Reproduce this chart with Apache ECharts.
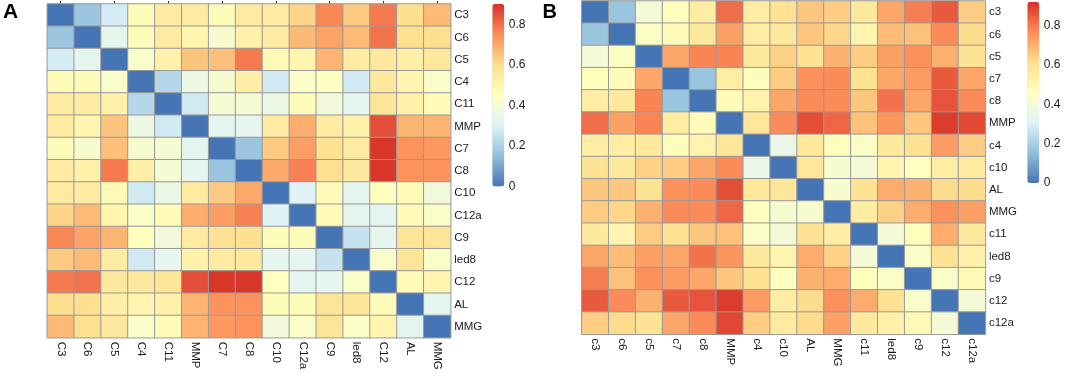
<!DOCTYPE html>
<html>
<head>
<meta charset="utf-8">
<script src="https://cdn.jsdelivr.net/npm/echarts@6/dist/echarts.min.js"></script>
<style>
  html, body { margin: 0; padding: 0; background: #fff; }
  #main { width: 1065px; height: 374px; }
</style>
</head>
<body>
<div id="main"></div>
<script>
// panel A
const labelsA = ['C3', 'C6', 'C5', 'C4', 'C11', 'MMP', 'C7', 'C8', 'C10', 'C12a', 'C9', 'led8', 'C12', 'AL', 'MMG']
const matrixA = [
  [0, .17, .28, .47, .55, .55, .47, .55, .55, .62, .76, .64, .78, .60, .67],
  [.17, 0, .33, .47, .55, .50, .41, .52, .55, .67, .71, .67, .79, .60, .60],
  [.28, .33, 0, .42, .52, .65, .66, .78, .48, .50, .68, .54, .56, .53, .56],
  [.47, .47, .42, 0, .22, .36, .41, .53, .27, .43, .45, .27, .56, .50, .42],
  [.55, .55, .52, .22, 0, .27, .40, .40, .35, .47, .38, .33, .57, .52, .47],
  [.55, .50, .65, .36, .27, 0, .32, .33, .55, .69, .55, .51, .85, .68, .68],
  [.47, .41, .66, .41, .40, .32, 0, .17, .64, .72, .59, .55, .89, .74, .73],
  [.55, .52, .78, .53, .40, .33, .17, 0, .70, .77, .60, .56, .89, .74, .74],
  [.55, .55, .48, .27, .35, .55, .64, .70, 0, .30, .47, .33, .45, .47, .38],
  [.62, .67, .50, .43, .47, .69, .72, .77, .30, 0, .47, .33, .32, .47, .43],
  [.76, .71, .68, .45, .38, .55, .59, .60, .47, .47, 0, .25, .33, .58, .58],
  [.64, .67, .54, .27, .33, .51, .55, .56, .33, .33, .25, 0, .42, .58, .43],
  [.78, .79, .56, .56, .57, .85, .89, .89, .45, .32, .33, .42, 0, .47, .50],
  [.60, .60, .53, .50, .52, .68, .74, .74, .47, .47, .58, .58, .47, 0, .32],
  [.67, .60, .56, .42, .47, .68, .73, .74, .38, .43, .58, .43, .50, .32, 0],
]

// panel B
const labelsB = ['c3', 'c6', 'c5', 'c7', 'c8', 'MMP', 'c4', 'c10', 'AL', 'MMG', 'c11', 'led8', 'c9', 'c12', 'c12a']
const matrixB = [
  [0, .17, .40, .47, .55, .82, .55, .60, .66, .65, .57, .72, .79, .85, .65],
  [.17, 0, .45, .48, .57, .73, .55, .57, .66, .63, .51, .68, .67, .77, .62],
  [.40, .45, 0, .72, .78, .78, .57, .64, .60, .70, .65, .73, .76, .70, .60],
  [.47, .48, .72, 0, .17, .55, .47, .65, .76, .77, .60, .72, .74, .85, .72],
  [.55, .57, .78, .17, 0, .48, .52, .72, .77, .77, .66, .81, .72, .86, .77],
  [.82, .73, .78, .55, .48, 0, .58, .77, .87, .83, .67, .75, .66, .90, .88],
  [.55, .55, .57, .47, .52, .58, 0, .35, .57, .47, .44, .57, .60, .74, .65],
  [.60, .57, .64, .65, .72, .77, .35, 0, .58, .42, .40, .51, .46, .55, .56],
  [.66, .66, .60, .76, .77, .87, .57, .58, 0, .42, .60, .71, .70, .62, .62],
  [.65, .63, .70, .77, .77, .83, .47, .42, .42, 0, .55, .64, .71, .76, .73],
  [.57, .51, .65, .60, .66, .67, .44, .40, .60, .55, 0, .40, .47, .71, .57],
  [.72, .68, .73, .72, .81, .75, .57, .51, .71, .64, .40, 0, .43, .60, .53],
  [.79, .67, .76, .74, .72, .66, .60, .46, .70, .71, .47, .43, 0, .43, .49],
  [.85, .77, .70, .85, .86, .90, .74, .55, .62, .76, .71, .60, .43, 0, .40],
  [.65, .62, .60, .72, .77, .88, .65, .56, .62, .73, .57, .53, .49, .40, 0],
]

// colour scale ranges
const scaleMaxA = 0.9
const scaleMaxB = 0.92
const scaleStep = 0.2

const palette = ['#4575B4', '#91BFDB', '#E0F3F8', '#FFFFBF', '#FEE090', '#FC8D59', '#D73027']
const font = 'Liberation Sans, Arial, sans-serif'
const textColor = '#1a1a1a'

const panels = [
  {
    letter: 'A', labels: labelsA, matrix: matrixA, max: scaleMaxA,
    grid: { left: 47.3, top: 4, width: 403.4, height: 333.7 },
    bar: { left: 492.3, top: 4, width: 12, height: 182.5 },
    letterPos: { left: 3, top: 1.5 }, letterSize: 21, tickLen: 3, topTicks: true,
  },
  {
    letter: 'B', labels: labelsB, matrix: matrixB, max: scaleMaxB,
    grid: { left: 581.8, top: 1, width: 403.6, height: 333.3 },
    bar: { left: 1027.3, top: 2, width: 12, height: 181 },
    letterPos: { left: 542.5, top: 2.5 }, letterSize: 20, tickLen: 2, topTicks: false,
  },
]

const toCells = (matrix) => {
  const out = []
  matrix.forEach((row, i) => {
    row.forEach((v, j) => out.push([j, i, v]))
  })
  return out
}

const grid = []
const xAxis = []
const yAxis = []
const series = []
const visualMap = []
const title = []

panels.forEach((p, k) => {
  const heatGrid = grid.length
  grid.push(p.grid)
  const barGrid = grid.length
  grid.push(p.bar)

  const xIdx = xAxis.length
  xAxis.push({
    type: 'category', gridIndex: heatGrid, data: p.labels, position: 'bottom',
    axisLine: { show: false }, axisTick: { show: false }, splitLine: { show: false },
    axisLabel: { rotate: -90, margin: 4, fontSize: 11.5, color: textColor, fontFamily: font },
  })
  xAxis.push({
    type: 'category', gridIndex: heatGrid, data: p.labels, position: 'top',
    axisLine: { show: false }, axisLabel: { show: false },
    axisTick: { show: p.topTicks, alignWithLabel: true, length: 3, lineStyle: { color: '#333' } },
  })
  xAxis.push({ type: 'value', gridIndex: barGrid, show: false, min: 0, max: 1 })

  const yIdx = yAxis.length
  yAxis.push({
    type: 'category', gridIndex: heatGrid, data: p.labels, position: 'right', inverse: true,
    axisLine: { show: false }, axisTick: { show: false }, splitLine: { show: false },
    axisLabel: { margin: 3.5, fontSize: 11.5, color: textColor, fontFamily: font },
  })
  yAxis.push({
    type: 'category', gridIndex: heatGrid, data: p.labels, position: 'left', inverse: true,
    axisLine: { show: false }, axisLabel: { show: false },
    axisTick: { alignWithLabel: true, length: p.tickLen, lineStyle: { color: '#333' } },
  })
  yAxis.push({
    type: 'value', gridIndex: barGrid, position: 'right', min: 0, max: p.max, interval: scaleStep,
    axisLine: { show: false }, axisTick: { show: false }, splitLine: { show: false },
    axisLabel: { margin: 4.5, fontSize: 12, color: textColor, fontFamily: font, showMaxLabel: false },
  })

  series.push({
    type: 'heatmap',
    xAxisIndex: xIdx,
    yAxisIndex: yIdx,
    data: toCells(p.matrix),
    itemStyle: { borderColor: '#999999', borderWidth: 1 },
    emphasis: { disabled: true },
    animation: false,
  })

  visualMap.push({
    type: 'continuous',
    seriesIndex: k,
    min: 0,
    max: p.max,
    calculable: false,
    orient: 'vertical',
    left: p.bar.left,
    top: p.bar.top,
    itemWidth: p.bar.width,
    itemHeight: p.bar.height,
    padding: 0,
    hoverLink: false,
    inRange: { color: palette },
  })

  title.push({
    text: p.letter,
    left: p.letterPos.left,
    top: p.letterPos.top,
    padding: 0,
    textStyle: { fontSize: p.letterSize, fontWeight: 'bold', color: '#000', fontFamily: font },
  })
})

const chart = echarts.init(document.getElementById('main'))
chart.setOption({
  animation: false,
  backgroundColor: '#fff',
  title,
  grid,
  xAxis,
  yAxis,
  visualMap,
  series,
})
</script>
</body>
</html>
